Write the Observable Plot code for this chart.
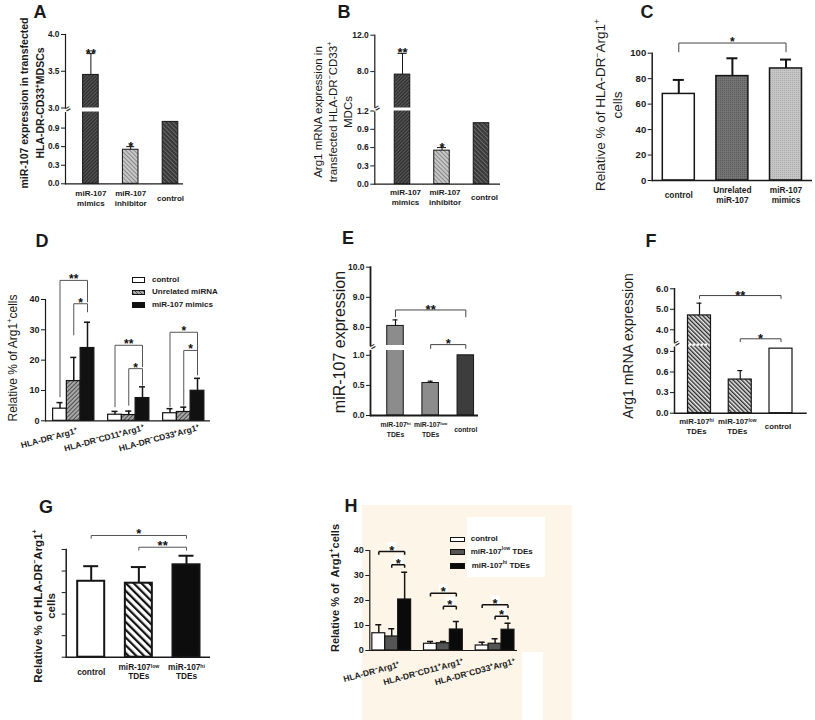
<!DOCTYPE html>
<html><head><meta charset="utf-8">
<script src="https://cdn.jsdelivr.net/npm/d3@7"></script>
<script src="https://cdn.jsdelivr.net/npm/@observablehq/plot@0.6"></script>
<style>
html,body{margin:0;padding:0;background:#fff;}
#page{position:relative;width:815px;height:720px;overflow:hidden;font-family:'Liberation Sans',Arial,Helvetica,sans-serif;color:#1a1a1a;}
.t{position:absolute;white-space:nowrap;}
.letter{font-weight:bold;font-size:18px;line-height:1;transform:translate(-50%,-50%);}
.yt{transform:translate(-50%,-50%) rotate(-90deg);text-align:center;}
.yt sup,.lg sup{font-size:62%;line-height:0;}
.sw{position:absolute;box-sizing:border-box;border:1px solid #111;}
.lg{position:absolute;font-size:8px;font-weight:bold;transform:translateY(-50%);white-space:nowrap;line-height:1;}
</style></head>
<body><div id="page">
<div style="position:absolute;left:362px;top:505px;width:210px;height:215px;background:#fdf5e8"></div>
<div style="position:absolute;left:522px;top:652px;width:21px;height:68px;background:#fff"></div>
<div style="position:absolute;left:467px;top:517px;width:78px;height:60px;background:#fff"></div>
<svg width="0" height="0" style="position:absolute;left:0;top:0"><defs>
<pattern id="pDarkTex" patternUnits="userSpaceOnUse" width="2.5" height="2.5" patternTransform="rotate(45)"><rect width="2.5" height="2.5" fill="#343434"/><rect width="0.9" height="2.5" fill="#5c5c5c"/></pattern>
<pattern id="pLightHatch" patternUnits="userSpaceOnUse" width="3" height="3" patternTransform="rotate(-45)"><rect width="3" height="3" fill="#c8c8c8"/><rect width="1" height="3" fill="#878787"/></pattern>
<pattern id="pDarkHatch" patternUnits="userSpaceOnUse" width="3.2" height="3.2" patternTransform="rotate(-45)"><rect width="3.2" height="3.2" fill="#383838"/><rect width="1" height="3.2" fill="#6c6c6c"/></pattern>
<pattern id="pDarkDots" patternUnits="userSpaceOnUse" width="2" height="2"><rect width="2" height="2" fill="#747474"/><rect width="1" height="1" fill="#5c5c5c"/></pattern>
<pattern id="pLightDots" patternUnits="userSpaceOnUse" width="2" height="2"><rect width="2" height="2" fill="#c6c6c6"/><rect width="1" height="1" fill="#ababab"/></pattern>
<pattern id="pGrayHatch" patternUnits="userSpaceOnUse" width="3" height="3" patternTransform="rotate(45)"><rect width="3" height="3" fill="#a8a8a8"/><rect width="1" height="3" fill="#4e4e4e"/></pattern>
<pattern id="pStripeDense" patternUnits="userSpaceOnUse" width="3" height="3" patternTransform="rotate(-45)"><rect width="3" height="3" fill="#ececec"/><rect width="1.4" height="3" fill="#2a2a2a"/></pattern>
<pattern id="pThickStripe" patternUnits="userSpaceOnUse" width="5.5" height="5.5" patternTransform="rotate(-45)"><rect width="5.5" height="5.5" fill="#ffffff"/><rect width="2.2" height="5.5" fill="#111"/></pattern>
</defs></svg>
<div id="charts"></div>

<div class="t letter" style="left:40px;top:12px">A</div>
<div class="t letter" style="left:344px;top:12px">B</div>
<div class="t letter" style="left:647px;top:12px">C</div>
<div class="t letter" style="left:42px;top:241px">D</div>
<div class="t letter" style="left:348px;top:238px">E</div>
<div class="t letter" style="left:651px;top:241px">F</div>
<div class="t letter" style="left:46px;top:507px">G</div>
<div class="t letter" style="left:351px;top:506px">H</div>

<div class="t yt" style="left:32px;top:103px;font-size:10.5px;font-weight:bold;line-height:16px">miR-107 expression in transfected<br>HLA-DR-CD33<sup>+</sup>MDSCs</div>
<div class="t yt" style="left:333px;top:112px;font-size:11.5px;line-height:15px">Arg1 mRNA expression in<br>transfected HLA-DR<sup>−</sup>CD33<sup>+</sup><br>MDCs</div>
<div class="t yt" style="left:609px;top:105px;font-size:13.5px;line-height:17px">Relative % of HLA-DR<sup>−</sup>Arg1<sup>+</sup><br>cells</div>
<div class="t yt" style="left:12.5px;top:358px;font-size:12px;line-height:14px">Relative % of Arg1<sup>+</sup>cells</div>
<div class="t yt" style="left:340px;top:342px;font-size:16px;line-height:18px">miR-107 expression</div>
<div class="t yt" style="left:628px;top:346px;font-size:14px;line-height:16px">Arg1 mRNA expression</div>
<div class="t yt" style="left:44.5px;top:606px;font-size:11.5px;font-weight:bold;line-height:13px">Relative % of HLA-DR<sup>−</sup>Arg1<sup>+</sup><br>cells</div>
<div class="t yt" style="left:335px;top:588px;font-size:11px;font-weight:bold;line-height:13px">Relative % of &nbsp;Arg1<sup>+</sup>cells</div>

<div class="sw" style="left:132px;top:277px;width:13px;height:5.5px;background:#fff"></div>
<div class="sw" style="left:132px;top:289.5px;width:13px;height:5.5px;background:repeating-linear-gradient(45deg,#4e4e4e 0 1px,#a8a8a8 1px 3px)"></div>
<div class="sw" style="left:132px;top:302px;width:13px;height:5.5px;background:#111"></div>
<div class="lg" style="left:152px;top:279.8px">control</div>
<div class="lg" style="left:152px;top:292.3px">Unrelated miRNA</div>
<div class="lg" style="left:152px;top:304.8px">miR-107 mimics</div>

<div class="sw" style="left:450px;top:536.5px;width:15px;height:5.5px;background:#fff"></div>
<div class="sw" style="left:450px;top:549.3px;width:15px;height:5.5px;background:#555"></div>
<div class="sw" style="left:450px;top:563px;width:15px;height:5.5px;background:#0a0a0a"></div>
<div class="lg" style="left:470.7px;top:539.3px">control</div>
<div class="lg" style="left:470.7px;top:552px">miR-107<sup>low</sup> TDEs</div>
<div class="lg" style="left:471.7px;top:565.7px">miR-107<sup>hi</sup> TDEs</div>
</div>
<script>
// ================= DATA =================
// Panel A
const A_categories = ["miR-107\nmimics", "miR-107\ninhibitor", "control"];
const A_values = [3.45, 0.55, 1.0];
const A_errors = [0.29, 0.05, 0];
const A_stars = ["**", "*", ""];
const A_ticks = [0, 0.3, 0.6, 0.9, 3.0, 3.5, 4.0];
// Panel B
const B_categories = ["miR-107\nmimics", "miR-107\ninhibitor", "control"];
const B_values = [7.67, 0.55, 1.0];
const B_errors = [2.33, 0.05, 0];
const B_stars = ["**", "*", ""];
const B_ticks = [0, 0.3, 0.6, 0.9, 1.2, 8.0, 12.0];
// Panel C
const C_categories = ["control", "Unrelated\nmiR-107", "miR-107\nmimics"];
const C_values = [68, 82, 88];
const C_errors = [11, 14, 7];
const C_ticks = [0, 20, 40, 60, 80, 100];
const C_brackets = [{a: 0, b: 2, label: "*", level: 108, legA: 100.8, legB: 100.8}];
// Panel D
const D_groups = ["HLA-DR⁻Arg1⁺", "HLA-DR⁻CD11⁺Arg1⁺", "HLA-DR⁻CD33⁺Arg1⁺"];
const D_series = ["control", "Unrelated miRNA", "miR-107 mimics"];
const D_control = [4.0, 2.0, 2.5];
const D_control_sd = [2.0, 1.1, 1.5];
const D_unrelated = [13.1, 1.9, 2.9];
const D_unrelated_sd = [7.8, 1.3, 1.6];
const D_mimics = [24.0, 7.5, 9.9];
const D_mimics_sd = [8.5, 3.7, 4.1];
const D_ticks = [0, 10, 20, 30, 40];
const D_brackets = [
  {g: 0, a: 0, b: 2, label: "**", level: 46.3, legA: 7.8, legB: 39.1},
  {g: 0, a: 1, b: 2, label: "*", level: 38.6, legA: 28.2, legB: 35.8},
  {g: 1, a: 0, b: 2, label: "**", level: 24.9, legA: 4.5, legB: 17.7},
  {g: 1, a: 1, b: 2, label: "*", level: 17.2, legA: 5.0, legB: 11.6},
  {g: 2, a: 0, b: 2, label: "*", level: 29.2, legA: 4.5, legB: 22.1},
  {g: 2, a: 1, b: 2, label: "*", level: 23.2, legA: 5.0, legB: 15.0}
];
// Panel E
const E_categories = ["miR-107ʰⁱ\nTDEs", "miR-107ˡᵒʷ\nTDEs", "control"];
const E_values = [8.05, 0.54, 1.0];
const E_errors = [0.2, 0.03, 0];
const E_ticks = [0, 0.5, 1.0, 8.0, 9.0, 10.0];
const E_brackets = [
  {a: 0, b: 2, label: "**", level: 8.58, legA: 8.34, legB: 8.34},
  {a: 1, b: 2, label: "*", level: 7.43, legA: 3.2, legB: 3.2}
];
// Panel F
const F_categories = ["miR-107ʰⁱ\nTDEs", "miR-107ˡᵒʷ\nTDEs", "control"];
const F_values = [4.7, 0.49, 0.94];
const F_errors = [0.6, 0.13, 0];
const F_ticks = [0, 0.3, 0.6, 0.9, 4.0, 5.0, 6.0];
const F_brackets = [
  {a: 0, b: 2, label: "**", level: 5.67, legA: 5.51, legB: 5.51},
  {a: 1, b: 2, label: "*", level: 3.56, legA: 3.40, legB: 3.40}
];
// Panel G
const G_categories = ["control", "miR-107ˡᵒʷ\nTDEs", "miR-107ʰⁱ\nTDEs"];
const G_values = [70.5, 68.7, 85.8];
const G_errors = [14, 15, 8.4];
const G_ticks = [0, 20, 40, 60, 80, 100];
const G_brackets = [
  {a: 0, b: 2, label: "*", level: 113, legA: 110, legB: 110},
  {a: 1, b: 2, label: "**", level: 102.1, legA: 99.1, legB: 99.1}
];
// Panel H
const H_groups = ["HLA-DR⁻Arg1⁺", "HLA-DR⁻CD11⁺Arg1⁺", "HLA-DR⁻CD33⁺Arg1⁺"];
const H_series = ["control", "miR-107ˡᵒʷ TDEs", "miR-107ʰⁱ TDEs"];
const H_control = [6.9, 2.7, 2.0];
const H_control_sd = [3.4, 0.9, 1.3];
const H_low = [5.6, 2.9, 2.7];
const H_low_sd = [3.1, 0.7, 2.0];
const H_high = [20.4, 8.4, 8.3];
const H_high_sd = [10.9, 3.2, 2.6];
const H_ticks = [0, 10, 20, 30, 40];
const H_brackets = [
  {g: 0, a: 0, b: 2, label: "*", level: 39.6, legA: 38.3, legB: 38.3},
  {g: 0, a: 1, b: 2, label: "*", level: 34.3, legA: 33.1, legB: 33.1},
  {g: 1, a: 0, b: 2, label: "*", level: 22.9, legA: 21.6, legB: 21.6},
  {g: 1, a: 1, b: 2, label: "*", level: 17.7, legA: 16.4, legB: 16.4},
  {g: 2, a: 0, b: 2, label: "*", level: 18.3, legA: 17.0, legB: 17.0},
  {g: 2, a: 1, b: 2, label: "*", level: 13.7, legA: 12.4, legB: 12.4}
];

// ================= HELPERS =================
const FONT = "'Liberation Sans', Arial, Helvetica, sans-serif";
const W = 815, HH = 720;
const STYLE = {background: "transparent", overflow: "visible", fontFamily: FONT, color: "#1a1a1a"};
const INK = "#151515";
const SVGNS = "http://www.w3.org/2000/svg";
const SUPS = [["ʰⁱ", "hi"], ["ˡᵒʷ", "low"]];

// render the modifier-letter superscripts as small raised text
function supify(root) {
  root.querySelectorAll("text, tspan").forEach(el => {
    if (el.children.length) return;
    const s = el.textContent;
    for (const [u, r] of SUPS) {
      const i = s.indexOf(u);
      if (i < 0) continue;
      el.textContent = s.slice(0, i);
      const t = document.createElementNS(SVGNS, "tspan");
      t.setAttribute("font-size", "62%");
      t.setAttribute("baseline-shift", "38%");
      t.textContent = r;
      el.appendChild(t);
      const rest = s.slice(i + u.length);
      if (rest) el.appendChild(document.createTextNode(rest));
      break;
    }
  });
}
function box(x0, x1, y0, y1) {
  return {width: W, height: HH, marginLeft: x0, marginRight: W - x1, marginTop: y0, marginBottom: HH - y1};
}
function place(el) {
  el.style.position = "absolute"; el.style.left = "0px"; el.style.top = "0px"; el.style.margin = "0";
  supify(el);
  document.getElementById("charts").appendChild(el);
}
function band(domain, c0, c1, bw) {
  const n = domain.length, step = (c1 - c0) / (n - 1), pi = Math.max(0, 1 - bw / step);
  return {step, bw, opts: {type: "band", domain, range: [c0 - step / 2, c1 + step / 2], paddingInner: pi, paddingOuter: pi / 2, align: 0.5, round: false, axis: null}};
}
function simpleRows(cats, vals, errs, stars) {
  return cats.map((c, i) => ({key: c, label: c, value: vals[i], err: errs[i], star: stars ? stars[i] : "", fk: "k" + i}));
}
function groupedRows(groups, series, means, sds) {
  const keys = [], rows = [];
  groups.forEach((g, gi) => {
    if (gi) keys.push("gap" + gi);
    series.forEach((s, si) => {
      keys.push(g + "|" + s);
      rows.push({key: g + "|" + s, value: means[si][gi], err: sds[si][gi], fk: s});
    });
  });
  return {keys, rows};
}
function barsWithErrors(rows, o) {
  const we = rows.filter(d => d.err > 0);
  const inset = (o.bw - o.cap) / 2;
  return [
    Plot.barY(rows, {x: "key", y: "value", fill: "fk", stroke: INK, strokeWidth: o.sw}),
    Plot.ruleX(we, {x: "key", y1: "value", y2: d => d.value + d.err, stroke: INK, strokeWidth: o.esw}),
    Plot.tickY(we, {x: "key", y: d => d.value + d.err, stroke: INK, strokeWidth: o.esw, insetLeft: inset, insetRight: inset})
  ];
}
function axesLines(sw) {
  return [
    Plot.frame({anchor: "left", stroke: "#1a1a1a", strokeWidth: sw}),
    Plot.ruleY([0], {stroke: "#1a1a1a", strokeWidth: sw})
  ];
}
function yAxis(ticks, fmt, fs) {
  return Plot.axisY({ticks, tickFormat: fmt, tickSize: 4, tickPadding: 2, fontSize: fs, fontWeight: "bold", label: null, stroke: "#1a1a1a", fill: "#1a1a1a"});
}
function axisBreak(v) {
  return [
    Plot.dot([v], {y: d => d, frameAnchor: "left", symbol: "square", r: 2.1, fill: "white"}),
    Plot.text([v], {y: d => d, frameAnchor: "left", text: () => "=", rotate: -30, fontSize: 9, fontWeight: "bold", fill: "#222"})
  ];
}
function xLabels(rows, o) {
  return Plot.text(rows, {x: "key", text: "label", frameAnchor: "bottom", dy: o.dy, dx: o.dx || 0, lineAnchor: "middle",
    fontSize: o.fs, fontWeight: "bold", lineHeight: o.lh || 1.25, fill: "#1a1a1a"});
}
function brackets(data, keyA, keyB, step, o) {
  const patches = [], stars = [];
  data.forEach(d => {
    const dx = (d.b - d.a) * step / 2;
    if (o.patch) patches.push(Plot.dot([d], {x: keyA, y: "level", dx, dy: -5, symbol: "square", r: 5, fill: "white"}));
    stars.push(Plot.text([d], {x: keyA, y: "level", text: "label", dx, dy: o.dy, lineAnchor: "bottom", fontSize: o.fs, fontWeight: "bold", fill: "#111"}));
  });
  return [
    ...patches,
    Plot.link(data, {x1: keyA, x2: keyB, y1: "level", y2: "level", stroke: o.stroke, strokeWidth: o.sw}),
    Plot.link(data, {x1: keyA, x2: keyA, y1: "level", y2: "legA", stroke: o.stroke, strokeWidth: o.sw}),
    Plot.link(data, {x1: keyB, x2: keyB, y1: "level", y2: "legB", stroke: o.stroke, strokeWidth: o.sw}),
    ...stars
  ];
}
function starsOnErrors(rows, fs, dy) {
  return Plot.text(rows.filter(d => d.star), {x: "key", y: d => d.value + d.err, text: "star", lineAnchor: "bottom", dy, fontSize: fs, fontWeight: "bold", fill: "#111"});
}

// ================= PANEL A =================
{
  const rows = simpleRows(A_categories, A_values, A_errors, A_stars);
  const bx = band(A_categories, 90.4, 170, 15.6);
  place(Plot.plot({
    ...box(65, 183, 34, 183.3),
    x: bx.opts,
    y: {type: "linear", domain: [0, 1.16, 3.0, 4.0], range: [183.3, 111.5, 107.5, 34], axis: null},
    color: {type: "ordinal", domain: ["k0", "k1", "k2"], range: ["url(#pDarkTex)", "url(#pLightHatch)", "url(#pDarkHatch)"]},
    style: STYLE,
    marks: [
      ...barsWithErrors(rows, {sw: 1, esw: 1, bw: bx.bw, cap: 8}),
      Plot.barY([rows[0]], {x: "key", y1: () => 1.16, y2: () => 3.0, fill: "white", insetLeft: -2, insetRight: -2}),
      ...axesLines(1.2),
      ...axisBreak(2.0),
      yAxis(A_ticks, ".1f", 8.3),
      starsOnErrors(rows, 13, 4),
      xLabels(rows, {fs: 8, dy: 13.7, lh: 1.25})
    ]
  }));
}
// ================= PANEL B =================
{
  const rows = simpleRows(B_categories, B_values, B_errors, B_stars);
  const bx = band(B_categories, 402, 481, 15.5);
  place(Plot.plot({
    ...box(374.3, 500, 34.7, 183.7),
    x: bx.opts,
    y: {type: "linear", domain: [0, 1.2, 4.0, 12.0], range: [183.7, 110.5, 107.5, 34.7], axis: null},
    color: {type: "ordinal", domain: ["k0", "k1", "k2"], range: ["url(#pDarkTex)", "url(#pLightHatch)", "url(#pDarkHatch)"]},
    style: STYLE,
    marks: [
      ...barsWithErrors(rows, {sw: 1, esw: 1, bw: bx.bw, cap: 9}),
      Plot.barY([rows[0]], {x: "key", y1: () => 1.2, y2: () => 4.0, fill: "white", insetLeft: -2, insetRight: -2}),
      ...axesLines(1.2),
      ...axisBreak(2.6),
      yAxis(B_ticks, ".1f", 8.5),
      starsOnErrors(rows, 13, 4),
      xLabels(rows, {fs: 8, dy: 13, dx: 3, lh: 1.25})
    ]
  }));
}
// ================= PANEL C =================
{
  const rows = simpleRows(C_categories, C_values, C_errors);
  const bx = band(C_categories, 678.3, 785.5, 32);
  const k = i => C_categories[i];
  place(Plot.plot({
    ...box(651.7, 812, 52.7, 180),
    x: bx.opts,
    y: {type: "linear", domain: [0, 100], range: [180, 52.7], axis: null},
    color: {type: "ordinal", domain: ["k0", "k1", "k2"], range: ["#ffffff", "url(#pDarkDots)", "url(#pLightDots)"]},
    style: STYLE,
    marks: [
      ...barsWithErrors(rows, {sw: 1.5, esw: 2, bw: bx.bw, cap: 11}),
      ...axesLines(1.5),
      yAxis(C_ticks, "d", 9.5),
      ...brackets(C_brackets, d => k(d.a), d => k(d.b), bx.step, {stroke: "#444", sw: 1, fs: 12, dy: 3.2}),
      xLabels(rows, {fs: 8.3, dy: 14, lh: 1.2})
    ]
  }));
}
// ================= PANEL D =================
{
  const {keys, rows} = groupedRows(D_groups, D_series, [D_control, D_unrelated, D_mimics], [D_control_sd, D_unrelated_sd, D_mimics_sd]);
  const bx = band(keys, 59.5, 197, 13.75);
  const kk = (d, s) => D_groups[d.g] + "|" + D_series[s];
  place(Plot.plot({
    ...box(45, 210, 299, 420.3),
    x: bx.opts,
    y: {type: "linear", domain: [0, 40], range: [420.3, 299], axis: null},
    color: {type: "ordinal", domain: D_series, range: ["#ffffff", "url(#pGrayHatch)", "#111111"]},
    style: STYLE,
    marks: [
      ...barsWithErrors(rows, {sw: 1.2, esw: 1.5, bw: bx.bw, cap: 6}),
      ...axesLines(1.2),
      yAxis(D_ticks, "d", 9),
      ...brackets(D_brackets, d => kk(d, d.a), d => kk(d, d.b), bx.step, {stroke: "#555", sw: 1, fs: 12, dy: 3}),
      Plot.text(D_groups, {x: g => g + "|" + D_series[1], text: d => d, frameAnchor: "bottom", rotate: -15, dx: -24, dy: 20,
        fontSize: 8.5, fontWeight: "bold", fill: "#1a1a1a"})
    ]
  }));
}
// ================= PANEL E =================
{
  const rows = simpleRows(E_categories, E_values, E_errors);
  const bx = band(E_categories, 395, 465.3, 16.5);
  const k = i => E_categories[i];
  place(Plot.plot({
    ...box(370, 478, 266.7, 415),
    x: bx.opts,
    y: {type: "linear", domain: [0, 1.08, 7.4, 10], range: [415, 350, 345, 266.7], axis: null},
    color: {type: "ordinal", domain: ["k0", "k1", "k2"], range: ["#8c8c8c", "#8c8c8c", "#3d3d3d"]},
    style: STYLE,
    marks: [
      ...barsWithErrors(rows, {sw: 1, esw: 1.2, bw: bx.bw, cap: 5}),
      Plot.barY([rows[0]], {x: "key", y1: () => 1.08, y2: () => 7.4, fill: "white", insetLeft: -2, insetRight: -2}),
      ...axesLines(1.8),
      ...axisBreak(4.2),
      yAxis(E_ticks, ".1f", 8.5),
      ...brackets(E_brackets, d => k(d.a), d => k(d.b), bx.step, {stroke: "#444", sw: 1, fs: 13, dy: 3.6}),
      xLabels(rows, {fs: 6.8, dy: 13.5, lh: 1.35})
    ]
  }));
}
// ================= PANEL F =================
{
  const rows = simpleRows(F_categories, F_values, F_errors);
  const bx = band(F_categories, 699, 780.5, 23);
  const k = i => F_categories[i];
  place(Plot.plot({
    ...box(674, 806.7, 288.3, 412.7),
    x: bx.opts,
    y: {type: "linear", domain: [0, 0.98, 3.35, 6.0], range: [412.7, 345.4, 342.6, 288.3], axis: null},
    color: {type: "ordinal", domain: ["k0", "k1", "k2"], range: ["url(#pStripeDense)", "url(#pStripeDense)", "#ffffff"]},
    style: STYLE,
    marks: [
      ...barsWithErrors(rows, {sw: 1.2, esw: 1.2, bw: bx.bw, cap: 5}),
      Plot.tickY([rows[0]], {x: "key", y: () => 2.0, stroke: "white", strokeWidth: 2.2, strokeDasharray: "2.5 1.5", insetLeft: 1, insetRight: 1}),
      ...axesLines(1.5),
      ...axisBreak(2.0),
      yAxis(F_ticks, ".1f", 9),
      ...brackets(F_brackets, d => k(d.a), d => k(d.b), bx.step, {stroke: "#444", sw: 1, fs: 13, dy: 4}),
      xLabels(rows, {fs: 7.8, dy: 13, dx: -3, lh: 1.25})
    ]
  }));
}
// ================= PANEL G =================
{
  const rows = simpleRows(G_categories, G_values, G_errors);
  const bx = band(G_categories, 90.7, 186, 27);
  const k = i => G_categories[i];
  place(Plot.plot({
    ...box(65.7, 210, 549, 656.7),
    x: bx.opts,
    y: {type: "linear", domain: [0, 100], range: [656.7, 549], axis: null},
    color: {type: "ordinal", domain: ["k0", "k1", "k2"], range: ["#ffffff", "url(#pThickStripe)", "#0d0d0d"]},
    style: STYLE,
    marks: [
      ...barsWithErrors(rows, {sw: 2, esw: 2, bw: bx.bw, cap: 15}),
      ...axesLines(1.5),
      yAxis(G_ticks, () => "", 8),
      ...brackets(G_brackets, d => k(d.a), d => k(d.b), bx.step, {stroke: "#555", sw: 1, fs: 13, dy: 3}),
      xLabels(rows, {fs: 8.3, dy: 14.5, lh: 1.1})
    ]
  }));
}
// ================= PANEL H =================
{
  const {keys, rows} = groupedRows(H_groups, H_series, [H_control, H_low, H_high], [H_control_sd, H_low_sd, H_high_sd]);
  const bx = band(keys, 378.3, 507.5, 12.92);
  const kk = (d, s) => H_groups[d.g] + "|" + H_series[s];
  place(Plot.plot({
    ...box(369.3, 517, 550, 650),
    x: bx.opts,
    y: {type: "linear", domain: [0, 40], range: [650, 550], axis: null},
    color: {type: "ordinal", domain: H_series, range: ["#ffffff", "#555555", "#0a0a0a"]},
    style: STYLE,
    marks: [
      ...barsWithErrors(rows, {sw: 1.2, esw: 1.5, bw: bx.bw, cap: 6}),
      ...axesLines(1.2),
      yAxis(H_ticks, "d", 9),
      ...brackets(H_brackets, d => kk(d, d.a), d => kk(d, d.b), bx.step, {stroke: "#111", sw: 1.5, fs: 13, dy: 3, patch: true}),
      Plot.text(H_groups, {x: g => g + "|" + H_series[1], text: d => d, frameAnchor: "bottom", rotate: -15, dx: -19.5, dy: 24,
        fontSize: 8.5, fontWeight: "bold", fill: "#1a1a1a"})
    ]
  }));
}
</script>
</body></html>
